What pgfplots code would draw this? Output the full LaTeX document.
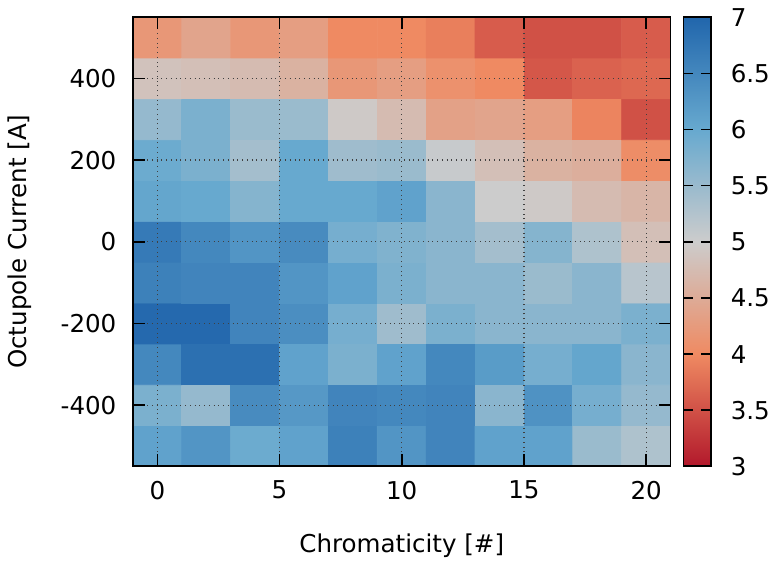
\documentclass[border=0pt]{standalone}
\usepackage{fontspec}
\setmainfont{DejaVu Sans}
\usepackage{pgfplots}
\pgfplotsset{compat=1.18}
\begin{document}
\fontsize{12.4}{15}\selectfont
\begin{tikzpicture}
\begin{axis}[
  scale only axis, width=270.5bp, height=226bp,
  xmin=-1, xmax=21, ymin=-550, ymax=550,
  xtick={0,5,10,15,20}, ytick={-400,-200,0,200,400},
  tick align=inside, major tick length=6bp,
  tick style={black, line width=0.8pt},
  grid=major, grid style={dotted, black!75, line width=0.6pt},
  axis on top,
  axis line style={line width=0.9pt},
  /pgf/number format/assume math mode=true,
  xticklabel style={yshift=-3bp},
  yticklabel style={xshift=-4bp},
  xlabel={Chromaticity [\#]}, ylabel={Octupole Current [A]},
  xlabel style={yshift=-9bp}, ylabel style={yshift=6bp},
  colormap={rdbu}{rgb255(0)=(178,24,43) rgb255(1)=(239,138,98)
    rgb255(2)=(204,204,204) rgb255(3)=(103,169,207) rgb255(4)=(33,102,172)},
  point meta min=3, point meta max=7,
  colorbar,
  colorbar shift/.style={xshift=6bp},
  colorbar style={
    width=14bp, grid=none,
    ytick={3,3.5,4,4.5,5,5.5,6,6.5,7},
    ytick pos=both, yticklabel pos=right,
    tick align=inside, major tick length=5bp,
    tick style={black, line width=0.8pt},
    axis line style={line width=0.9pt},
    yticklabel style={xshift=5.5bp},
    /pgf/number format/assume math mode=true,
  },
]
\addplot[matrix plot*, mesh/cols=11, point meta=explicit] table[meta=c] {
x y c
0 -500 6.1
2 -500 6.3
4 -500 5.95
6 -500 6.1
8 -500 6.6
10 -500 6.3
12 -500 6.55
14 -500 6.1
16 -500 6.1
18 -500 5.5
20 -500 5.3
0 -400 5.8
2 -400 5.55
4 -400 6.45
6 -400 6.25
8 -400 6.55
10 -400 6.5
12 -400 6.55
14 -400 5.65
16 -400 6.35
18 -400 5.85
20 -400 5.55
0 -300 6.5
2 -300 6.85
4 -300 6.85
6 -300 6.1
8 -300 5.8
10 -300 6.1
12 -300 6.5
14 -300 6.2
16 -300 5.85
18 -300 6.05
20 -300 5.65
0 -200 6.95
2 -200 6.95
4 -200 6.55
6 -200 6.4
8 -200 5.85
10 -200 5.45
12 -200 5.8
14 -200 5.65
16 -200 5.65
18 -200 5.65
20 -200 5.8
0 -100 6.6
2 -100 6.55
4 -100 6.55
6 -100 6.3
8 -100 6.1
10 -100 5.8
12 -100 5.65
14 -100 5.65
16 -100 5.5
18 -100 5.65
20 -100 5.2
0 0 6.7
2 0 6.5
4 0 6.3
6 0 6.45
8 0 5.85
10 0 5.75
12 0 5.65
14 0 5.4
16 0 5.7
18 0 5.3
20 0 4.8
0 100 6.05
2 100 6.0
4 100 5.7
6 100 6.0
8 100 6.0
10 100 6.1
12 100 5.65
14 100 5.0
16 100 4.95
18 100 4.75
20 100 4.65
0 200 5.95
2 200 5.8
4 200 5.4
6 200 6.0
8 200 5.45
10 200 5.5
12 200 5.05
14 200 4.8
16 200 4.6
18 200 4.55
20 200 4.05
0 300 5.55
2 300 5.8
4 300 5.5
6 300 5.5
8 300 4.95
10 300 4.75
12 300 4.35
14 300 4.4
16 300 4.3
18 300 3.95
20 300 3.5
0 400 4.85
2 400 4.8
4 400 4.75
6 400 4.6
8 400 4.2
10 400 4.3
12 400 4.1
14 400 4.0
16 400 3.55
18 400 3.65
20 400 3.7
0 500 4.2
2 500 4.4
4 500 4.2
6 500 4.3
8 500 4.0
10 500 4.0
12 500 3.9
14 500 3.6
16 500 3.5
18 500 3.5
20 500 3.6
};
\end{axis}
\end{tikzpicture}
\end{document}
